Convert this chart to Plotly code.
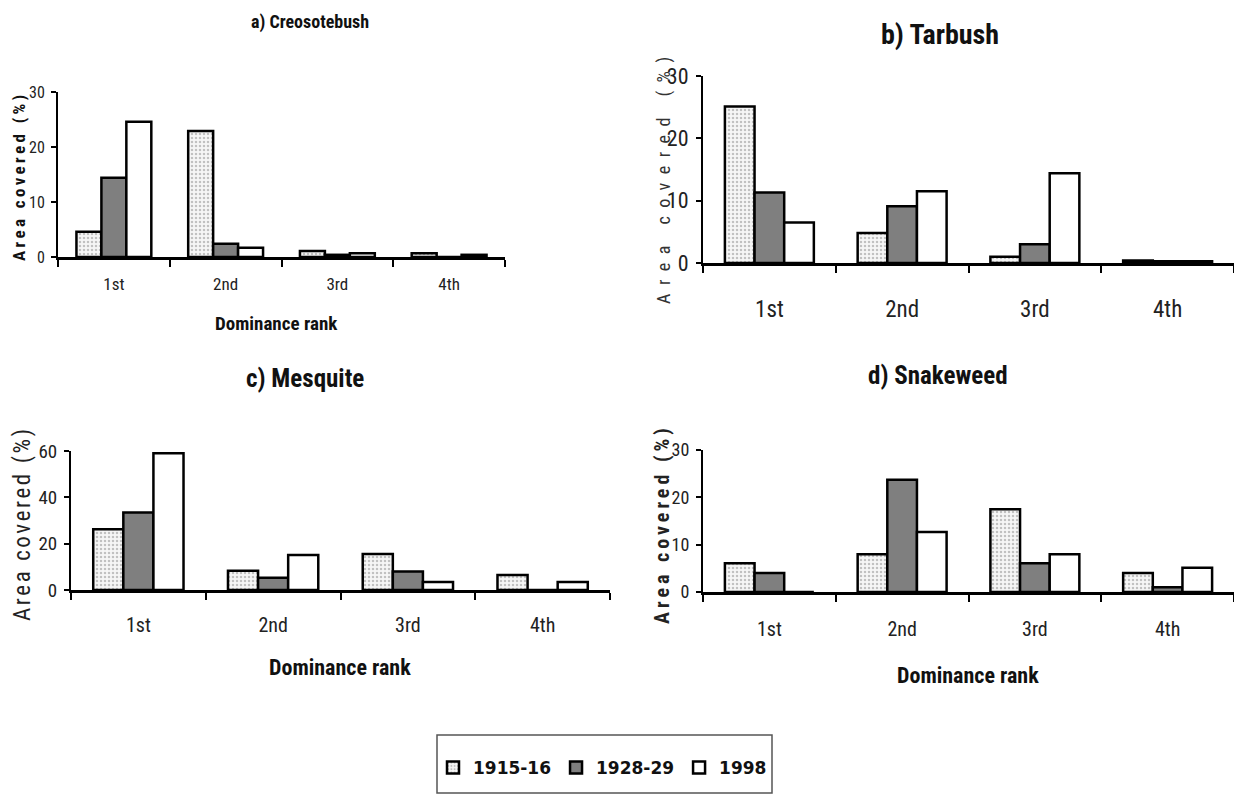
import plotly.graph_objects as go

W, H = 1234, 794

ranks = ["1st", "2nd", "3rd", "4th"]
series_names = ["1915-16", "1928-29", "1998"]

creosote_1915 = [4.6, 22.9, 1.1, 0.7]
creosote_1928 = [14.4, 2.4, 0.4, 0.0]
creosote_1998 = [24.6, 1.7, 0.7, 0.4]

tarbush_1915 = [25.1, 4.8, 1.0, 0.4]
tarbush_1928 = [11.3, 9.1, 3.0, 0.3]
tarbush_1998 = [6.5, 11.5, 14.4, 0.3]

mesquite_1915 = [26.2, 8.3, 15.5, 6.5]
mesquite_1928 = [33.4, 5.3, 8.0, 0.0]
mesquite_1998 = [59.0, 15.1, 3.5, 3.5]

snakeweed_1915 = [6.1, 8.0, 17.5, 4.0]
snakeweed_1928 = [4.0, 23.7, 6.1, 1.0]
snakeweed_1998 = [0.0, 12.7, 8.0, 5.1]

panel_titles = ["a) Creosotebush", "b) Tarbush", "c) Mesquite", "d) Snakeweed"]
y_title = "Area covered (%)"
x_title = "Dominance rank"

panels = [
    [creosote_1915, creosote_1928, creosote_1998],
    [tarbush_1915, tarbush_1928, tarbush_1998],
    [mesquite_1915, mesquite_1928, mesquite_1998],
    [snakeweed_1915, snakeweed_1928, snakeweed_1998],
]
y_ticks = [[0, 10, 20, 30], [0, 10, 20, 30], [0, 20, 40, 60], [0, 10, 20, 30]]


def px(x):
    return x / W


def py(y):
    return 1 - y / H


NARROW = "Roboto Condensed, Open Sans Condensed, sans-serif"
LEGFONT = "DejaVu Sans, Liberation Sans, Arial, sans-serif"

# pixel geometry per panel: x0, x1 (axis), ytop, ybottom
geo = [
    (58, 505, 92, 257),
    (703, 1234, 76, 263),
    (71, 610, 451, 590),
    (703, 1234, 450, 592),
]
tick_font = [17, 23, 20, 20]
ytick_font = [16, 22, 19, 18]
x_standoff = [10, 23, 15, 17]

styles = [
    dict(color="#f4f4f4", pattern=dict(shape=".", fgcolor="#8c8c8c", bgcolor="#f6f6f6", size=4, solidity=0.3)),
    dict(color="#7f7f7f"),
    dict(color="#ffffff"),
]

fig = go.Figure()
for i, vals in enumerate(panels):
    sfx = "" if i == 0 else str(i + 1)
    for j, v in enumerate(vals):
        st = styles[j]
        marker = dict(color=st["color"], line=dict(color="#000000", width=2.5))
        if "pattern" in st:
            marker["pattern"] = st["pattern"]
        fig.add_trace(go.Bar(
            x=ranks, y=v, name=series_names[j],
            xaxis="x" + sfx, yaxis="y" + sfx,
            marker=marker, legendgroup=series_names[j],
            showlegend=(i == 0),
        ))

layout = dict(
    width=W, height=H,
    margin=dict(l=0, r=0, t=0, b=0, autoexpand=False),
    paper_bgcolor="white", plot_bgcolor="white",
    barmode="group", bargap=0.33, bargroupgap=0.0,
    showlegend=True,
    legend=dict(
        orientation="h", x=px(433), y=py(768), xanchor="left", yanchor="middle",
        font=dict(family=LEGFONT, size=17, color="#111111", weight="bold"),
        bgcolor="rgba(0,0,0,0)", borderwidth=0, traceorder="normal",
    ),
)

for i in range(4):
    sfx = "" if i == 0 else str(i + 1)
    x0, x1, yt, yb = geo[i]
    layout["xaxis" + sfx] = dict(
        domain=[px(x0), px(x1)], anchor="y" + sfx, type="category",
        showline=True, linewidth=3, linecolor="black",
        ticks="outside", tickson="boundaries", ticklen=7, tickwidth=2, tickcolor="black",
        tickfont=dict(family=NARROW, size=tick_font[i], color="#222222"),
        ticklabelstandoff=x_standoff[i],
        showgrid=False, zeroline=False, fixedrange=True,
    )
    layout["yaxis" + sfx] = dict(
        domain=[py(yb), py(yt)], anchor="x" + sfx,
        range=[0, y_ticks[i][-1]], tickvals=y_ticks[i],
        showline=True, linewidth=2, linecolor="black",
        ticks="outside", ticklen=5, tickwidth=2, tickcolor="black",
        tickfont=dict(family=NARROW, size=ytick_font[i], color="#222222"),
        ticklabelstandoff=3,
        showgrid=False, zeroline=False, fixedrange=True,
    )

fig.update_layout(**layout)

annotations = []
# panel titles
title_pos = [(310, 22, 18), (940, 34, 28), (305, 379, 25), (938, 376, 25)]
for t, (x, y, s) in zip(panel_titles, title_pos):
    annotations.append(dict(
        text="<b>" + t + "</b>", x=px(x), y=py(y), xref="paper", yref="paper",
        xanchor="center", yanchor="middle", showarrow=False,
        font=dict(family=NARROW, size=s, color="#111111"),
    ))
# x axis titles
for (x, y, s) in [(276, 323, 19), (340, 667, 22), (968, 675, 22)]:
    annotations.append(dict(
        text="<b>" + x_title + "</b>", x=px(x), y=py(y), xref="paper", yref="paper",
        xanchor="center", yanchor="middle", showarrow=False,
        font=dict(family=NARROW, size=s, color="#111111"),
    ))
# y axis titles (letter-spaced)
ytitle_specs = [
    (19, 176, 17, 3.4, True, "#111111"),
    (664, 176, 18, 8.5, False, "#333333"),
    (22, 524, 23, 2.6, False, "#222222"),
    (662, 524, 20, 4, True, "#222222"),
]
for (x, y, s, ls, bold, col) in ytitle_specs:
    txt = '<span style="letter-spacing:%spx">%s</span>' % (ls, y_title)
    if bold:
        txt = "<b>" + txt + "</b>"
    annotations.append(dict(
        text=txt, x=px(x), y=py(y), xref="paper", yref="paper",
        xanchor="center", yanchor="middle", showarrow=False, textangle=-90,
        font=dict(family=NARROW, size=s, color=col),
    ))

fig.update_layout(
    annotations=annotations,
    shapes=[dict(type="rect", xref="paper", yref="paper",
                 x0=px(437), x1=px(772), y0=py(793), y1=py(735),
                 line=dict(color="#555555", width=1.5), fillcolor="rgba(0,0,0,0)")],
)

fig.write_html("out.html", config={"displayModeBar": False},
               post_script="document.body.style.margin='0px';")
